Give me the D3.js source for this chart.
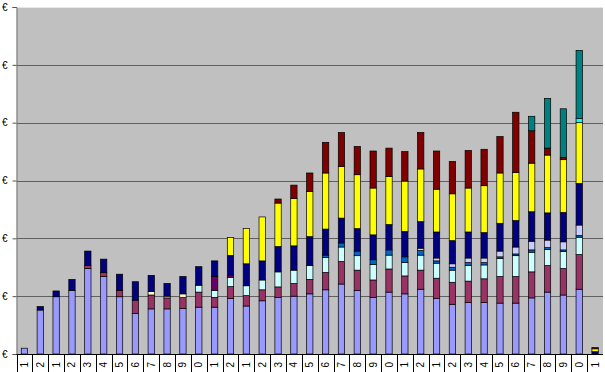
<!DOCTYPE html>
<html>
<head>
<meta charset="utf-8">
<script src="https://cdn.jsdelivr.net/npm/d3@7"></script>
<style>
  body { margin: 0; background: #fff; }
  svg { display: block; }
  text { font-family: "Liberation Sans", Arial, sans-serif; }
</style>
</head>
<body>
<div id="chart"></div>
<script>
// month labels as they show under the axis (last digit of the month)
const monthLabels = ["1","2","1","2","3","4","5","6","7","8","9","0","1","2","1","2","3","4","5","6","7","8","9","0","1","2","1","2","3","4","5","6","7","8","9","0","1"];

const yTicks = [0, 1, 2, 3, 4, 5, 6];
const yTickLabel = "€";

// stacked series, bottom to top
const serie1  = [0.10,0.76,0.99,1.10,1.48,1.34,0.99,0.70,0.78,0.78,0.79,0.81,0.81,0.96,0.83,0.92,0.98,1.00,1.04,1.11,1.21,1.10,0.98,1.07,1.04,1.12,0.96,0.86,0.89,0.89,0.88,0.88,0.97,1.07,1.02,1.12,0];
const serie2  = [0,0,0,0,0.05,0.07,0.11,0.23,0.24,0.19,0.185,0.26,0.17,0.205,0.18,0.19,0.18,0.22,0.25,0.30,0.39,0.35,0.30,0.40,0.31,0.33,0.35,0.38,0.37,0.41,0.46,0.46,0.45,0.46,0.46,0.60,0];
const serie3  = [0,0,0,0,0,0,0,0,0.06,0.03,0.065,0,0,0,0,0,0,0,0,0,0,0,0,0,0,0,0,0,0,0,0,0,0,0,0,0,0];
const serie4  = [0,0,0,0,0,0,0,0,0,0,0,0.12,0.12,0.16,0.17,0.17,0.26,0.23,0.24,0.26,0.25,0.25,0.27,0.24,0.23,0.26,0.26,0.21,0.27,0.24,0.31,0.36,0.34,0.28,0.29,0.30,0];
const serie5  = [0,0,0,0,0,0,0,0,0,0,0,0,0.24,0.03,0,0,0,0,0,0,0,0,0,0,0,0,0,0,0,0,0,0,0,0,0,0,0];
const serie7  = [0,0,0,0,0,0,0,0,0,0,0,0,0,0,0,0,0,0,0,0.04,0.07,0.08,0.08,0.09,0.10,0.08,0.04,0.05,0.05,0.04,0.03,0.03,0.04,0.03,0.03,0.03,0];
const serie8  = [0,0,0,0,0,0,0,0,0,0,0,0,0,0,0,0,0,0,0,0,0,0,0,0,0,0.04,0.05,0.06,0.08,0.08,0.10,0.12,0.15,0.13,0.14,0.18,0];
const serie9  = [0,0.06,0.10,0.19,0.25,0.23,0.28,0.32,0.28,0.22,0.30,0.32,0.27,0.35,0.38,0.33,0.44,0.42,0.50,0.45,0.43,0.39,0.43,0.44,0.44,0.46,0.45,0.40,0.45,0.44,0.48,0.46,0.51,0.47,0.51,0.72,0.04];
const serie11 = [0,0,0,0,0,0,0,0,0,0,0,0,0,0.31,0.61,0.76,0.75,0.82,0.78,0.97,0.89,0.93,0.81,0.83,0.87,0.91,0.74,0.81,0.76,0.81,0.87,0.83,0.84,1.00,0.91,1.05,0.05];
const serie12 = [0,0,0,0,0,0,0,0,0,0,0,0,0,0,0,0,0,0,0,0,0,0,0,0,0,0,0,0,0,0,0,0,0,0,0,0.07,0];
const serie14 = [0,0,0,0,0,0,0,0,0,0,0,0,0,0,0,0,0.07,0.23,0.32,0.53,0.59,0.49,0.64,0.49,0.51,0.63,0.66,0.56,0.65,0.63,0.63,1.04,0.56,0.12,0.04,0,0.02];
const serie15 = [0,0,0,0,0,0,0,0,0,0,0,0,0,0,0,0,0,0,0,0,0,0,0,0,0,0,0,0,0,0,0,0,0.25,0.86,0.84,1.18,0];

const seriesKeys = ["serie1","serie2","serie3","serie4","serie5","serie7","serie8","serie9","serie11","serie12","serie14","serie15"];
const seriesValues = [serie1,serie2,serie3,serie4,serie5,serie7,serie8,serie9,serie11,serie12,serie14,serie15];
const seriesColors = ["#9999FF","#993366","#FFFFCC","#CCFFFF","#660066","#0066CC","#CCCCFF","#000080","#FFFF00","#00FFFF","#800000","#008080"];

const width = 605, height = 372;
const plot = { left: 16.5, right: 603, top: 7, bottom: 354 };

const rows = monthLabels.map((m, i) => {
  const r = { idx: i, label: m };
  seriesKeys.forEach((k, j) => r[k] = seriesValues[j][i]);
  return r;
});

const svg = d3.select("#chart").append("svg")
  .attr("width", width)
  .attr("height", height);

const x = d3.scaleBand()
  .domain(rows.map(d => d.idx))
  .range([plot.left, plot.right])
  .paddingInner(0.6)
  .paddingOuter(0.3);

const y = d3.scaleLinear()
  .domain([0, 6])
  .range([plot.bottom, plot.top]);

// plot area
svg.append("rect")
  .attr("x", plot.left)
  .attr("y", plot.top)
  .attr("width", plot.right - plot.left)
  .attr("height", plot.bottom - plot.top)
  .attr("fill", "#C0C0C0");

// gridlines
svg.append("g")
  .selectAll("line")
  .data(yTicks.filter(t => t > 0))
  .join("line")
  .attr("x1", plot.left)
  .attr("x2", plot.right)
  .attr("y1", d => Math.round(y(d)) + 0.5)
  .attr("y2", d => Math.round(y(d)) + 0.5)
  .attr("stroke", d => d === 6 ? "#e6e6e6" : "#606060")
  .attr("stroke-width", 1);

// stacked bars
const stack = d3.stack().keys(seriesKeys);
const layers = stack(rows);

svg.append("g")
  .selectAll("g")
  .data(layers)
  .join("g")
  .attr("fill", (d, i) => seriesColors[i])
  .selectAll("rect")
  .data(d => d.filter(p => p[1] - p[0] > 0))
  .join("rect")
  .attr("x", d => x(d.data.idx))
  .attr("width", x.bandwidth())
  .attr("y", d => y(d[1]))
  .attr("height", d => y(d[0]) - y(d[1]))
  .attr("stroke", "#000")
  .attr("stroke-width", 0.7);

// y axis
const yAxis = d3.axisLeft(y)
  .tickValues(yTicks)
  .tickFormat(() => yTickLabel)
  .tickSize(4)
  .tickPadding(5);

svg.append("g")
  .attr("transform", `translate(${plot.left},0)`)
  .call(yAxis)
  .call(g => g.select(".domain").attr("stroke", "#777"))
  .call(g => g.selectAll(".tick line").attr("stroke", "#555"))
  .call(g => g.selectAll("text")
    .attr("font-family", "Liberation Sans, Arial, sans-serif")
    .attr("font-size", 10)
    .attr("fill", "#000"));

// x axis line
svg.append("line")
  .attr("x1", plot.left)
  .attr("x2", plot.right)
  .attr("y1", plot.bottom + 0.5)
  .attr("y2", plot.bottom + 0.5)
  .attr("stroke", "#000");

// label cell separators
const step = x.step();
svg.append("g")
  .selectAll("line")
  .data(rows)
  .join("line")
  .attr("x1", d => Math.round(x(d.idx) + x.bandwidth() / 2 - step / 2) + 0.5)
  .attr("x2", d => Math.round(x(d.idx) + x.bandwidth() / 2 - step / 2) + 0.5)
  .attr("y1", plot.bottom)
  .attr("y2", height)
  .attr("stroke", "#000");

// month labels, rotated
svg.append("g")
  .selectAll("text")
  .data(rows)
  .join("text")
  .attr("transform", d => `translate(${x(d.idx) + x.bandwidth() / 2 + 3.5},${plot.bottom + 8}) rotate(-90)`)
  .attr("text-anchor", "end")
  .attr("font-size", 10)
  .attr("fill", "#000")
  .text(d => d.label);
</script>
</body>
</html>
